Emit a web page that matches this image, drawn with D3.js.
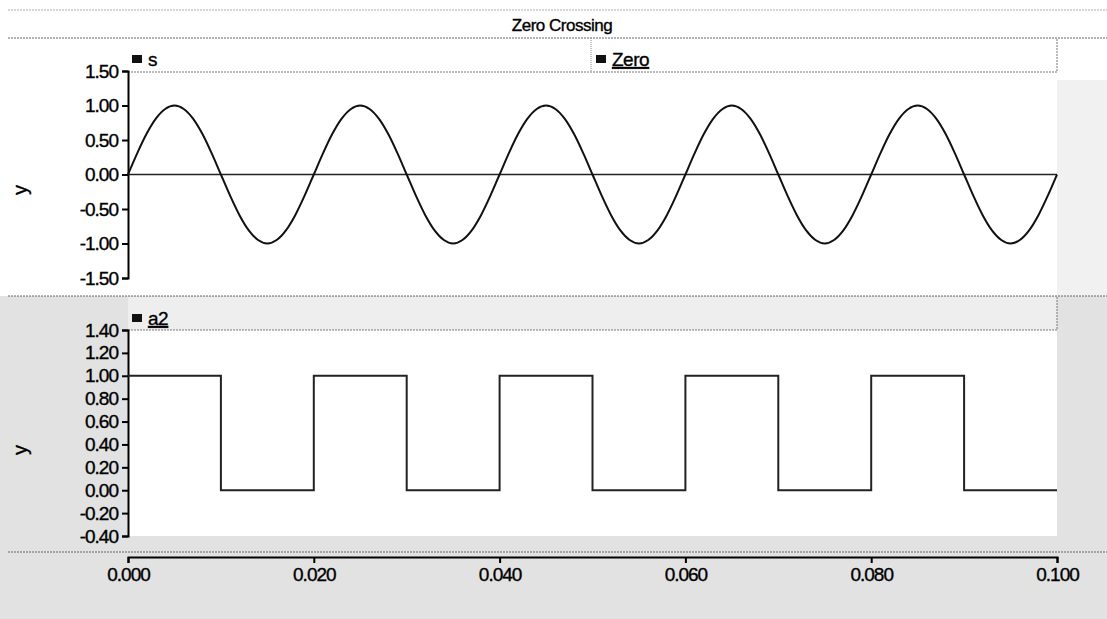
<!DOCTYPE html>
<html lang="en">
<head>
<meta charset="utf-8">
<title>Zero Crossing</title>
<script src="https://d3js.org/d3.v7.min.js"></script>
<style>
  body { margin: 0; background: white; }
  text { font-family: "Liberation Sans", Arial, sans-serif; fill: #000; stroke: #000; stroke-width: 0.35px; }
</style>
</head>
<body>
<div id="chart"></div>
<script>
// ---- data ----
var sTimes = [0.000,0.001,0.002,0.003,0.004,0.005,0.006,0.007,0.008,0.009,
  0.010,0.011,0.012,0.013,0.014,0.015,0.016,0.017,0.018,0.019,
  0.020,0.021,0.022,0.023,0.024,0.025,0.026,0.027,0.028,0.029,
  0.030,0.031,0.032,0.033,0.034,0.035,0.036,0.037,0.038,0.039,
  0.040,0.041,0.042,0.043,0.044,0.045,0.046,0.047,0.048,0.049,
  0.050,0.051,0.052,0.053,0.054,0.055,0.056,0.057,0.058,0.059,
  0.060,0.061,0.062,0.063,0.064,0.065,0.066,0.067,0.068,0.069,
  0.070,0.071,0.072,0.073,0.074,0.075,0.076,0.077,0.078,0.079,
  0.080,0.081,0.082,0.083,0.084,0.085,0.086,0.087,0.088,0.089,
  0.090,0.091,0.092,0.093,0.094,0.095,0.096,0.097,0.098,0.099,0.100];
var sValues = [0,0.31,0.59,0.81,0.95,1,0.95,0.81,0.59,0.31,
  0,-0.31,-0.59,-0.81,-0.95,-1,-0.95,-0.81,-0.59,-0.31,
  0,0.31,0.59,0.81,0.95,1,0.95,0.81,0.59,0.31,
  0,-0.31,-0.59,-0.81,-0.95,-1,-0.95,-0.81,-0.59,-0.31,
  0,0.31,0.59,0.81,0.95,1,0.95,0.81,0.59,0.31,
  0,-0.31,-0.59,-0.81,-0.95,-1,-0.95,-0.81,-0.59,-0.31,
  0,0.31,0.59,0.81,0.95,1,0.95,0.81,0.59,0.31,
  0,-0.31,-0.59,-0.81,-0.95,-1,-0.95,-0.81,-0.59,-0.31,
  0,0.31,0.59,0.81,0.95,1,0.95,0.81,0.59,0.31,
  0,-0.31,-0.59,-0.81,-0.95,-1,-0.95,-0.81,-0.59,-0.31,0];
var zeroTimes = [0, 0.1];
var zeroValues = [0, 0];
var a2Times = [0, 0.01, 0.02, 0.03, 0.04, 0.05, 0.06, 0.07, 0.08, 0.09, 0.10];
var a2Values = [1, 0, 1, 0, 1, 0, 1, 0, 1, 0, 0];

var xTicks = [0, 0.02, 0.04, 0.06, 0.08, 0.10];
var topTicks = [1.5, 1.0, 0.5, 0, -0.5, -1.0, -1.5];
var botTicks = [1.4, 1.2, 1.0, 0.8, 0.6, 0.4, 0.2, 0, -0.2, -0.4];

var W = 1107, H = 619;
var svg = d3.select("#chart").append("svg")
    .attr("width", W).attr("height", H);

// background, scanned-looking grey below the upper panel
svg.append("rect").attr("x", 0).attr("y", 0).attr("width", W).attr("height", H).attr("fill", "#fff");
svg.append("rect").attr("x", 0).attr("y", 296).attr("width", W).attr("height", H - 296).attr("fill", "#e2e2e2");
svg.append("rect").attr("x", 1057).attr("y", 80).attr("width", 50).attr("height", 216).attr("fill", "#f1f1f1");
svg.append("rect").attr("x", 128).attr("y", 330).attr("width", 929).attr("height", 206).attr("fill", "#fff");
svg.append("rect").attr("x", 128).attr("y", 297).attr("width", 929).attr("height", 33).attr("fill", "#eeeeee");

var x = d3.scaleLinear().domain([0, 0.1]).range([128, 1057]);
var yTop = d3.scaleLinear().domain([-1.5, 1.5]).range([278, 71]);
var yBot = d3.scaleLinear().domain([-0.4, 1.4]).range([536, 330]);
var fmt2 = function(d) { return d3.format(".2f")(d).replace("\u2212", "-"); };

// separators
[10, 38, 296, 552].forEach(function(yy, i) {
  svg.append("line").attr("x1", 8).attr("x2", W).attr("y1", yy).attr("y2", yy)
    .attr("stroke", i == 0 ? "#aaa" : "#666").attr("stroke-width", 1)
    .attr("stroke-dasharray", "2,1");
});

// title
svg.append("text").attr("x", 562).attr("y", 31).attr("text-anchor", "middle")
  .style("font-size", "17px").style("letter-spacing", "-0.5px").text("Zero Crossing");

// legend boxes
function legendBox(y0, y1) {
  svg.append("path")
    .attr("d", "M128," + y1 + "H1057V" + y0)
    .attr("fill", "none").attr("stroke", "#777").attr("stroke-dasharray", "2,1");
}
legendBox(38, 72);
legendBox(297, 330);
svg.append("line").attr("x1", 591).attr("x2", 591).attr("y1", 38).attr("y2", 72)
  .attr("stroke", "#888").attr("stroke-dasharray", "1,1");

function legendItem(lx, ly, label, underline) {
  svg.append("rect").attr("x", lx).attr("y", ly - 11).attr("width", 10).attr("height", 8).attr("fill", "#111");
  var t = svg.append("text").attr("x", lx + 16).attr("y", ly)
    .style("font-size", "19px").style("letter-spacing", "-0.5px").text(label);
  if (underline) t.style("text-decoration", "underline");
}
legendItem(132, 66, "s", false);
legendItem(596, 66, "Zero", true);
legendItem(132, 325, "a2", true);

// axes
function styleAxis(g) {
  g.selectAll("path").attr("stroke", "#000").attr("stroke-width", 2);
  g.selectAll("line").attr("stroke", "#000").attr("stroke-width", 2);
  g.selectAll("text").style("font-size", "19px").style("letter-spacing", "-1px").attr("fill", "#000")
    .style("font-family", "'Liberation Sans', Arial, sans-serif");
}
svg.append("g").attr("transform", "translate(128,0)")
  .call(d3.axisLeft(yTop).tickValues(topTicks).tickFormat(fmt2).tickSize(6).tickSizeOuter(6).tickPadding(4))
  .call(styleAxis);
svg.append("g").attr("transform", "translate(128,0)")
  .call(d3.axisLeft(yBot).tickValues(botTicks).tickFormat(fmt2).tickSize(6).tickSizeOuter(6).tickPadding(4))
  .call(styleAxis);
svg.append("g").attr("transform", "translate(0,557)")
  .call(d3.axisBottom(x).tickValues(xTicks).tickFormat(d3.format(".3f")).tickSize(6).tickSizeOuter(6).tickPadding(5))
  .call(styleAxis);

// axis titles
svg.append("text").attr("transform", "translate(27,190) rotate(-90)").attr("text-anchor", "middle")
  .style("font-size", "20px").text("y");
svg.append("text").attr("transform", "translate(27,450) rotate(-90)").attr("text-anchor", "middle")
  .style("font-size", "20px").text("y");

// series
var sData = sTimes.map(function(t, i) { return [t, sValues[i]]; });
var zData = zeroTimes.map(function(t, i) { return [t, zeroValues[i]]; });
var aData = a2Times.map(function(t, i) { return [t, a2Values[i]]; });

svg.append("path").datum(zData).attr("fill", "none").attr("stroke", "#222").attr("stroke-width", 1.5)
  .attr("d", d3.line().x(function(d) { return x(d[0]); }).y(function(d) { return yTop(d[1]); }));
svg.append("path").datum(sData).attr("fill", "none").attr("stroke", "#111").attr("stroke-width", 2)
  .attr("d", d3.line().curve(d3.curveMonotoneX).x(function(d) { return x(d[0]); }).y(function(d) { return yTop(d[1]); }));
svg.append("path").datum(aData).attr("fill", "none").attr("stroke", "#222").attr("stroke-width", 2)
  .attr("d", d3.line().curve(d3.curveStepAfter).x(function(d) { return x(d[0]); }).y(function(d) { return yBot(d[1]); }));
</script>
</body>
</html>
